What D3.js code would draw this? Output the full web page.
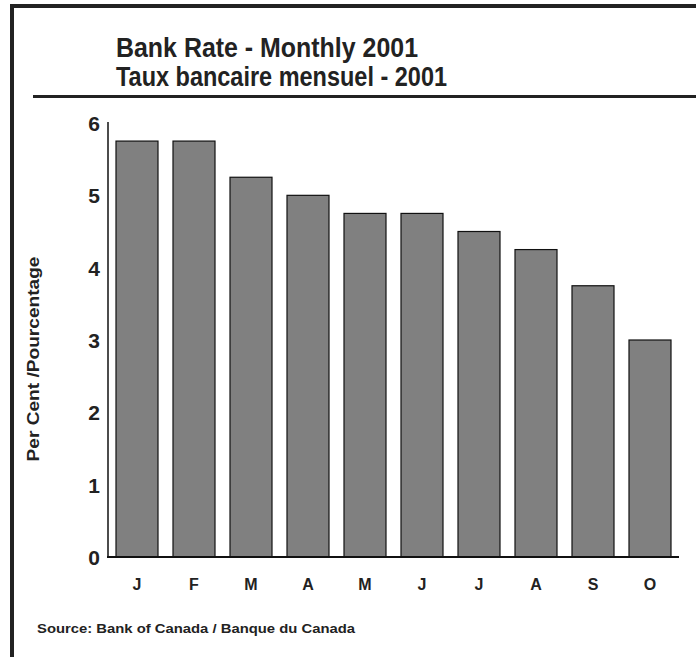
<!DOCTYPE html>
<html><head><meta charset="utf-8">
<script src="https://cdn.jsdelivr.net/npm/d3@7"></script>
<style>body{margin:0;background:#fff}svg{display:block}text{font-family:"Liberation Sans",Arial,Helvetica,sans-serif;font-weight:bold;fill:#222}</style>
</head><body>
<script>
const months = ["J","F","M","A","M","J","J","A","S","O"];
const rates = [5.75,5.75,5.25,5.0,4.75,4.75,4.5,4.25,3.75,3.0];
const yTicks = [0,1,2,3,4,5,6];
const titleLines = ["Bank Rate - Monthly 2001","Taux bancaire mensuel - 2001"];
const yLabel = "Per Cent /Pourcentage";
const sourceText = "Source:  Bank of Canada / Banque du Canada";

const W = 696, H = 657;
const svg = d3.select("body").append("svg").attr("width", W).attr("height", H);

// frame (top and left)
svg.append("rect").attr("x",10).attr("y",4).attr("width",W-10).attr("height",4).attr("fill","#222");
svg.append("rect").attr("x",10).attr("y",4).attr("width",4).attr("height",H-4).attr("fill","#222");

// titles
const titleLens = [302, 331];
svg.selectAll("text.title").data(titleLines).enter().append("text")
  .attr("class","title").attr("x",116).attr("y",(d,i)=>57+i*29)
  .attr("textLength",(d,i)=>titleLens[i]).attr("lengthAdjust","spacingAndGlyphs")
  .style("font-size","27px").text(d=>d);
svg.append("rect").attr("x",33).attr("y",95).attr("width",W-33).attr("height",3).attr("fill","#222");

// scales
const x = d3.scaleBand().domain(d3.range(months.length)).range([116,671]).paddingInner(15/57).paddingOuter(0);
const y = d3.scaleLinear().domain([0,6]).range([557,123]);

// bars
svg.selectAll("rect.bar").data(rates).enter().append("rect")
  .attr("class","bar")
  .attr("x",(d,i)=>x(i)).attr("width",x.bandwidth())
  .attr("y",d=>y(d)).attr("height",d=>y(0)-y(d))
  .attr("fill","#808080").attr("stroke","#111").attr("stroke-width",1.2);

// y axis line
svg.append("line").attr("x1",108).attr("x2",108).attr("y1",y(6)-1).attr("y2",y(0))
  .attr("stroke","#111").attr("stroke-width",1.5);
// baseline
svg.append("line").attr("x1",107).attr("x2",679).attr("y1",y(0)).attr("y2",y(0))
  .attr("stroke","#111").attr("stroke-width",2);

// y tick labels
svg.selectAll("text.yt").data(yTicks).enter().append("text")
  .attr("class","yt").attr("x",100).attr("y",d=>y(d)+8)
  .attr("text-anchor","end").style("font-size","21px").text(d=>d);

// month labels
svg.selectAll("text.mt").data(months).enter().append("text")
  .attr("class","mt").attr("x",(d,i)=>x(i)+x.bandwidth()/2).attr("y",590)
  .attr("text-anchor","middle").style("font-size","16px").text(d=>d);

// y label
svg.append("text").attr("transform","translate(39,359) rotate(-90)")
  .attr("text-anchor","middle").attr("textLength",205).attr("lengthAdjust","spacingAndGlyphs")
  .style("font-size","16px").text(yLabel);

// source
svg.append("text").attr("x",37).attr("y",633).attr("textLength",318).attr("lengthAdjust","spacingAndGlyphs")
  .style("font-size","13px").text(sourceText);
</script>
</body></html>
